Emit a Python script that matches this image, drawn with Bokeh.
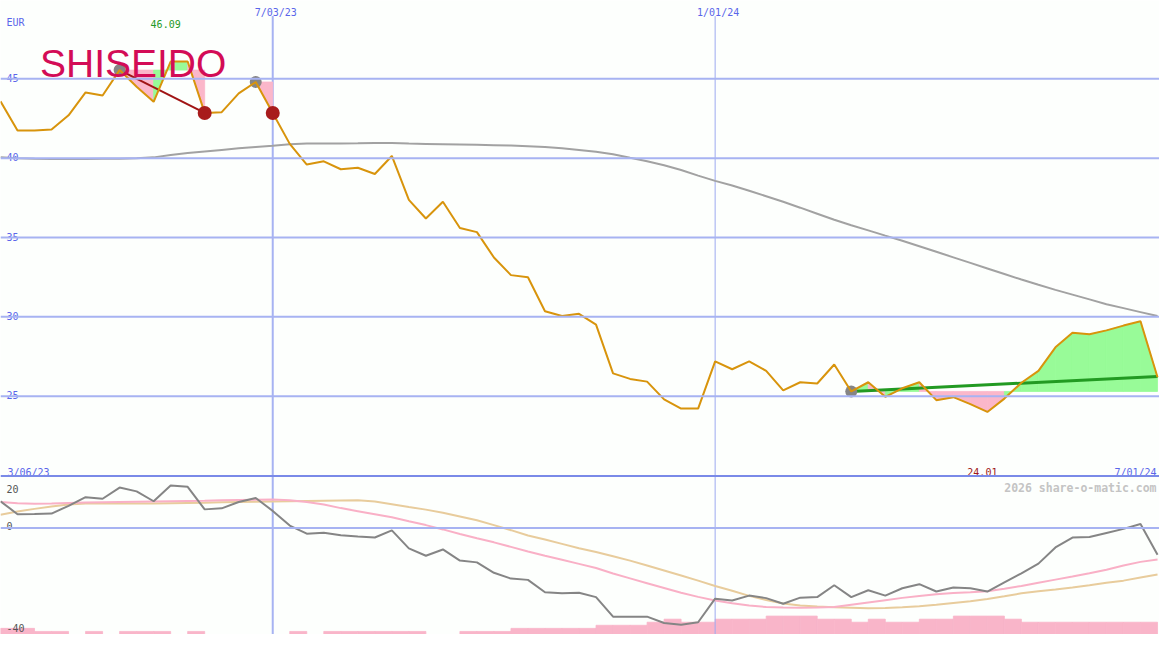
import pandas as pd
from bokeh.plotting import figure
from bokeh.models import Range1d, Span
from bokeh.core.properties import value
from bokeh.embed import file_html
from bokeh.resources import INLINE

# ---------------- data ----------------
start_date = "2023-03-13"
n_weeks = 69
week_dates = pd.date_range(start_date, periods=n_weeks, freq="7D")

price = [43.58, 41.74, 41.74, 41.80, 42.70, 44.14, 43.95, 45.55, 44.50, 43.55,
         46.09, 46.09, 42.85, 42.90, 44.08, 44.80, 42.85, 40.90, 39.60, 39.80,
         39.30, 39.40, 39.00, 40.14, 37.37, 36.20, 37.25, 35.60, 35.34, 33.74,
         32.63, 32.50, 30.35, 30.05, 30.19, 29.51, 26.44, 26.09, 25.92, 24.80,
         24.22, 24.22, 27.20, 26.70, 27.20, 26.60, 25.37, 25.88, 25.80, 27.00,
         25.30, 25.88, 24.96, 25.50, 25.88, 24.75, 24.94, 24.50, 24.01, 24.85,
         25.85, 26.60, 28.08, 29.00, 28.90, 29.15, 29.45, 29.72, 26.20]

ma_long = [40.05, 40.00, 39.97, 39.95, 39.95, 39.95, 39.96, 39.97, 40.00, 40.05,
           40.20, 40.32, 40.42, 40.52, 40.62, 40.70, 40.78, 40.87, 40.92, 40.93,
           40.93, 40.94, 40.96, 40.96, 40.92, 40.90, 40.88, 40.86, 40.84, 40.82,
           40.80, 40.75, 40.70, 40.62, 40.52, 40.40, 40.25, 40.02, 39.80, 39.55,
           39.25, 38.90, 38.57, 38.28, 37.95, 37.60, 37.25, 36.88, 36.50, 36.12,
           35.77, 35.45, 35.12, 34.80, 34.45, 34.10, 33.75, 33.40, 33.05, 32.70,
           32.35, 32.02, 31.70, 31.40, 31.10, 30.80, 30.55, 30.30, 30.05]

momentum = [10.5, 5.4, 5.5, 5.65, 8.7, 12.1, 11.5, 15.9, 14.4, 10.5,
            16.7, 16.2, 7.3, 7.7, 10.2, 11.8, 6.7, 0.9, -2.3, -1.9,
            -2.9, -3.4, -3.8, -1.0, -8.1, -11.0, -8.5, -12.9, -13.6, -17.7,
            -20.0, -20.5, -25.4, -25.8, -25.6, -27.3, -35.0, -35.0, -35.0, -37.5,
            -38.2, -37.2, -27.9, -28.6, -26.7, -27.7, -29.9, -27.5, -27.3, -22.6,
            -27.3, -24.6, -26.7, -23.8, -22.2, -25.1, -23.5, -23.8, -25.1, -21.5,
            -17.9, -14.1, -7.7, -3.8, -3.6, -2.0, -0.4, 1.5, -10.6]

mom_avg_fast = [10.2, 9.7, 9.5, 9.6, 9.8, 10.0, 10.1, 10.2, 10.3, 10.4,
                10.5, 10.6, 10.7, 10.9, 11.0, 11.1, 11.2, 10.9, 10.2, 9.2,
                7.8, 6.6, 5.4, 4.2, 2.6, 1.1, -0.6, -2.4, -4.1, -5.7,
                -7.5, -9.3, -11.0, -12.6, -14.2, -15.8, -18.0, -19.9, -21.8, -23.7,
                -25.6, -27.2, -28.6, -29.7, -30.6, -31.2, -31.4, -31.5, -31.4, -31.2,
                -30.3, -29.4, -28.5, -27.6, -26.9, -26.2, -25.7, -25.4, -25.0, -24.0,
                -22.9, -21.6, -20.4, -19.2, -17.9, -16.5, -14.8, -13.4, -12.5]

mom_avg_slow = [5.2, 6.5, 7.5, 8.4, 9.2, 9.6, 9.6, 9.6, 9.6, 9.6,
                9.7, 9.8, 9.9, 10.1, 10.2, 10.3, 10.4, 10.5, 10.6, 10.7,
                10.8, 10.9, 10.4, 9.3, 8.2, 7.2, 6.0, 4.5, 3.0, 1.1,
                -0.9, -3.0, -4.6, -6.3, -8.0, -9.5, -11.2, -12.9, -14.8, -16.8,
                -18.8, -20.8, -22.9, -24.8, -26.8, -28.4, -29.8, -30.6, -31.0, -31.3,
                -31.5, -31.7, -31.6, -31.3, -30.9, -30.3, -29.6, -28.9, -28.0, -27.0,
                -25.8, -25.0, -24.3, -23.5, -22.6, -21.6, -20.8, -19.6, -18.4]

# weekly volume level (bar i spans week i to week i+1)
volume_level = [2, 2, 1, 1, 0, 1, 0, 1, 1, 1,
                0, 1, 0, 0, 0, 0, 0, 1, 0, 1,
                1, 1, 1, 1, 1, 0, 0, 1, 1, 1,
                2, 2, 2, 2, 2, 3, 3, 3, 4, 5,
                4, 4, 5, 5, 5, 6, 6, 6, 5, 5,
                4, 5, 4, 4, 5, 5, 6, 6, 6, 5,
                4, 4, 4, 4, 4, 4, 4, 4]

price_ticks = [45, 40, 35, 30, 25]
price_tick_labels = ["45", "40", "35", "30", "25"]
mom_ticks = [20, 0, -40]
mom_tick_labels = ["20", "0", "-40"]
date_ticks = ["2023-07-03", "2024-01-01"]
date_tick_labels = ["7/03/23", "1/01/24"]
first_date_label = "3/06/23"
last_date_label = "7/01/24"
currency = "EUR"
high_idx, high_label = 10, "46.09"
low_idx, low_label = 58, "24.01"
company = "SHISEIDO"
credit = "2026 share-o-matic.com"

peak_idx = [7, 15, 50]
trough_idx = [12, 16]
down_trend_idx = [7, 12]
up_trend_idx = [50, 68]
up_trend_end = 26.24

fill_seg_start = [7, 8, 9, 10, 11, 15] + list(range(50, 68))
fill_anchor = [7, 7, 7, 7, 7, 15] + [50] * 18
fill_up = [0, 0, 1, 1, 0, 0] + [1, 0, 1, 1, 0, 0, 0, 0, 0, 1, 1, 1, 1, 1, 1, 1, 1, 1]

# ---------------- layout helpers ----------------
REF_W, REF_H = 1175.0, 650.0
W, H = 1159, 634
ms = [d.value / 1e6 for d in week_dates]
WEEK_MS = 7 * 24 * 3600 * 1000.0
PX_PER_WEEK = 17.25
X0 = ms[0]
X1 = X0 + REF_W / PX_PER_WEEK * WEEK_MS
Y_TOP, Y_BOT = 49.935, 9.985          # price units at top/bottom of the page
M_TOP, M_BOT = 207.96, -42.04          # momentum units at top/bottom


def xpx(px):
    return X0 + (X1 - X0) * px / REF_W


def ypx(py):
    return Y_TOP - (Y_TOP - Y_BOT) * py / REF_H


def date_ms(s):
    return pd.Timestamp(s).value / 1e6


BG = "#fdfffd"
GRID = "#a7b3f2"
LABEL_BLUE = "#5a66ea"
MONO = value("DejaVu Sans Mono")

p = figure(width=W, height=H, output_backend="svg", toolbar_location=None,
           x_range=Range1d(X0, X1), y_range=Range1d(Y_BOT, Y_TOP),
           min_border=0, background_fill_color=BG, border_fill_color=BG,
           outline_line_color=None)
p.extra_y_ranges = {"mom": Range1d(M_BOT, M_TOP)}
p.xaxis.visible = False
p.yaxis.visible = False
p.grid.visible = False

# ---------------- bottom panel bars ----------------
lvl_unit = 1.21
bar_left = [ms[i] for i in range(len(volume_level)) if volume_level[i] > 0]
bar_right = [ms[i + 1] for i in range(len(volume_level)) if volume_level[i] > 0]
bar_top = [M_BOT + volume_level[i] * lvl_unit for i in range(len(volume_level)) if volume_level[i] > 0]
p.quad(left=bar_left, right=bar_right, bottom=M_BOT - 5, top=bar_top,
       fill_color="#f9b5c9", line_color="#f9b5c9", line_width=0.8, y_range_name="mom")

# ---------------- grid lines ----------------
for t in price_ticks:
    p.add_layout(Span(location=t, dimension="width", line_color=GRID, line_width=2))
p.add_layout(Span(location=0, dimension="width", line_color=GRID, line_width=2,
                  y_range_name="mom"))
p.add_layout(Span(location=ypx(487.5), dimension="width", line_color="#7a8ae8", line_width=2))
vx = [date_ms(d) for d in date_ticks]
p.segment(x0=vx, x1=vx, y0=[ypx(16)] * 2, y1=[Y_BOT - 1] * 2,
          line_color=[GRID, "#9ca9f0"], line_width=[2, 1])

# ---------------- fills ----------------
fill_xs, fill_ys, fill_cols = [], [], []
for s, a, up in zip(fill_seg_start, fill_anchor, fill_up):
    ref = price[a]
    fill_xs.append([ms[s], ms[s], ms[s + 1], ms[s + 1]])
    fill_ys.append([ref, price[s], price[s + 1], ref])
    fill_cols.append("#98fb98" if up else "#fbb7ca")
p.patches(xs=fill_xs, ys=fill_ys, fill_color=fill_cols, line_color=fill_cols,
          line_width=0.8)

# ---------------- lines ----------------
p.line(ms, ma_long, line_color="#a2a2a2", line_width=2)
p.line([ms[i] for i in down_trend_idx], [price[down_trend_idx[0]], price[down_trend_idx[1]]],
       line_color="#a01414", line_width=2)
p.line([ms[i] for i in up_trend_idx], [price[up_trend_idx[0]], up_trend_end],
       line_color="#229a22", line_width=3)
p.scatter([ms[i] for i in peak_idx], [price[i] for i in peak_idx], size=12,
          fill_color="#858585", line_color=None)
p.line(ms, price, line_color="#d8940c", line_width=2)
p.scatter([ms[i] for i in trough_idx], [price[i] for i in trough_idx], size=14,
          fill_color="#a81c1c", line_color=None)

p.line(ms, mom_avg_slow, line_color="#e8cc9c", line_width=2, y_range_name="mom")
p.line(ms, mom_avg_fast, line_color="#f9b0c6", line_width=2, y_range_name="mom")
p.line(ms, momentum, line_color="#858585", line_width=2, y_range_name="mom")

# ---------------- texts ----------------
p.text(x=[xpx(40)], y=[ypx(64.7)], text=[company], text_font=value("Liberation Sans"),
       text_font_size="39px", text_color="#d30c56", text_baseline="alphabetic",
       text_align="left")

p.text(x=[xpx(6)] * len(price_ticks), y=price_ticks, text=price_tick_labels,
       text_font=MONO, text_font_size="10px", text_color=LABEL_BLUE,
       text_baseline="alphabetic", text_align="left", y_offset=-1)
p.text(x=[xpx(6)], y=[ypx(23)], text=[currency], text_font=MONO, text_font_size="10px",
       text_color=LABEL_BLUE, text_baseline="alphabetic", text_align="left")
p.text(x=vx, y=[ypx(12.5)] * 2, text=date_tick_labels, text_font=MONO,
       text_font_size="10px", text_color=LABEL_BLUE, text_baseline="alphabetic",
       text_align="center", x_offset=3)
p.text(x=[ms[high_idx]], y=[ypx(24)], text=[high_label], text_font=MONO,
       text_font_size="10px", text_color="#1f9a26", text_baseline="alphabetic",
       text_align="center", x_offset=-5)
p.text(x=[xpx(7)], y=[ypx(483.5)], text=[first_date_label], text_font=MONO,
       text_font_size="10px", text_color=LABEL_BLUE, text_baseline="alphabetic",
       text_align="left")
p.text(x=[ms[low_idx]], y=[ypx(483.5)], text=[low_label], text_font=MONO,
       text_font_size="10px", text_color="#a01818", text_baseline="alphabetic",
       text_align="center", x_offset=-5)
p.text(x=[xpx(1172)], y=[ypx(483.5)], text=[last_date_label], text_font=MONO,
       text_font_size="10px", text_color=LABEL_BLUE, text_baseline="alphabetic",
       text_align="right")
p.text(x=[xpx(1172)], y=[ypx(500)], text=[credit], text_font=MONO,
       text_font_size="11.5px", text_font_style="bold", text_color="#c4c4c4",
       text_baseline="alphabetic", text_align="right")
mom_label_offsets = [11.5, -2, -1.5]
p.text(x=[xpx(6)] * len(mom_ticks), y=mom_ticks, text=mom_tick_labels, text_font=MONO,
       text_font_size="10px", text_color="#555555", text_baseline="alphabetic",
       text_align="left", y_offset=mom_label_offsets, y_range_name="mom")

open("out.html", "w").write(file_html(p, INLINE))
